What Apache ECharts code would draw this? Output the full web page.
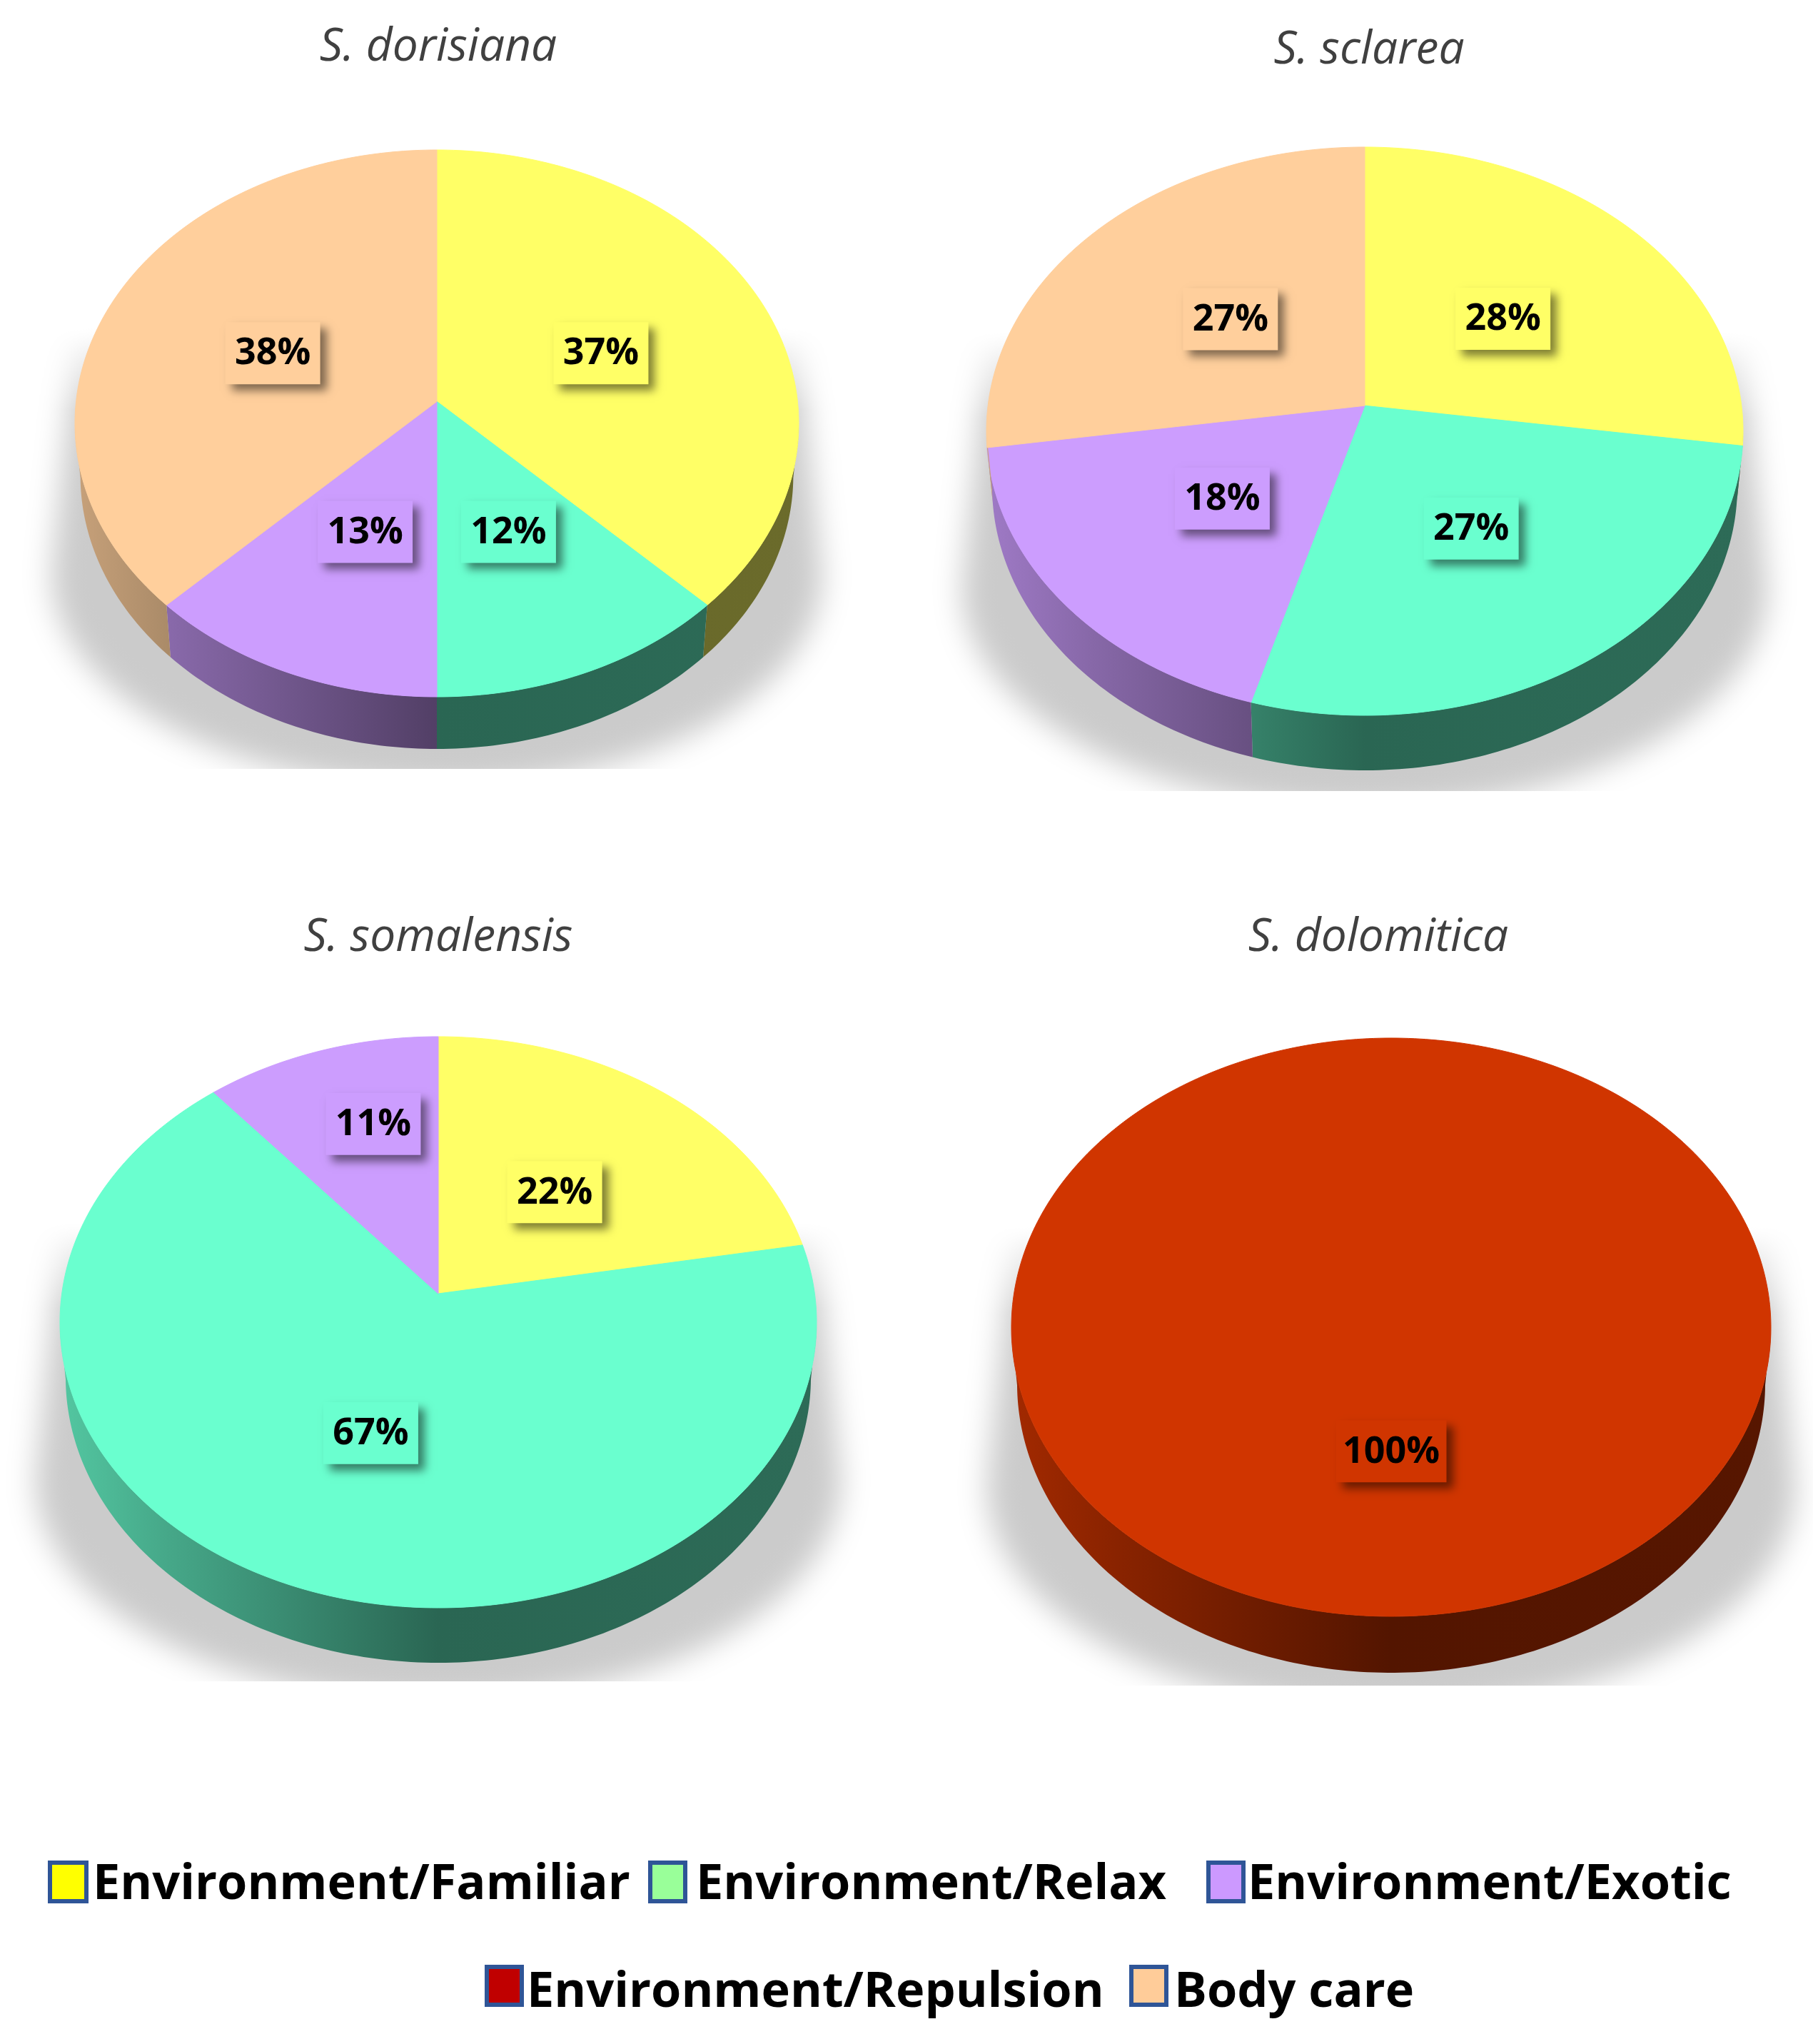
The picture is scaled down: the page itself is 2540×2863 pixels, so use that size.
<!DOCTYPE html>
<html>
<head>
<meta charset="utf-8">
<style>
  html, body { margin: 0; padding: 0; background: #fff; }
  #chart { width: 2540px; height: 2863px; }
</style>
<script src="https://cdn.jsdelivr.net/npm/echarts@6/dist/echarts.min.js"></script>
</head>
<body>
<div id="chart"></div>
<script>
  // data
  const species = ['S. dorisiana', 'S. sclarea', 'S. somalensis', 'S. dolomitica'];
  const dorisianaValues = [37.5, 12.5, 12.5, 37.5];
  const dorisianaLabels = ['37%', '12%', '13%', '38%'];
  const dorisianaKinds = [0, 1, 2, 4];
  const sclareaValues = [27.25, 27.2, 18.2, 27.35];
  const sclareaLabels = ['28%', '27%', '18%', '27%'];
  const sclareaKinds = [0, 1, 2, 4];
  const somalensisValues = [22.2, 66.7, 11.1];
  const somalensisLabels = ['22%', '67%', '11%'];
  const somalensisKinds = [0, 1, 2];
  const dolomiticaValues = [100];
  const dolomiticaLabels = ['100%'];
  const dolomiticaKinds = [3];
  const legendNames = ['Environment/Familiar', 'Environment/Relax', 'Environment/Exotic', 'Environment/Repulsion', 'Body care'];

  const sliceColors = ['#FFFF66', '#6AFFCF', '#CC9DFE', '#D03500', '#FFCF9C'];
  const legendColors = ['#FFFF00', '#99FF99', '#CC99FF', '#C00000', '#FFCC99'];

  const allValues = [dorisianaValues, sclareaValues, somalensisValues, dolomiticaValues];
  const allLabels = [dorisianaLabels, sclareaLabels, somalensisLabels, dolomiticaLabels];
  const allKinds = [dorisianaKinds, sclareaKinds, somalensisKinds, dolomiticaKinds];

  // where each pie sits on the page
  const pies = [
    { cx: 612, cy: 593, rx: 507, ry: 383, p: 0.08, depth: 73, cut: 484, tx: 609, ty: 62 },
    { cx: 1912, cy: 604, rx: 530, ry: 398, p: 0.09, depth: 77, cut: 504, tx: 1913, ty: 66 },
    { cx: 614, cy: 1852, rx: 530, ry: 400, p: 0.1, depth: 77, cut: 503, tx: 609, ty: 1309 },
    { cx: 1949, cy: 1859, rx: 532, ry: 405, p: 0.09, depth: 79, cut: 502, tx: 1926, ty: 1309 }
  ];

  // the 11% label is moved up in the source picture
  const labelNudge = { '2-2': [-5, -64], '1-2': [5, -4], '1-3': [6, 0] };

  const legendLayout = [
    { x: 67, y: 2606, w: 57, h: 60, tx: 130, dy: 5 },
    { x: 908, y: 2606, w: 55, h: 60, tx: 975, dy: 5 },
    { x: 1690, y: 2606, w: 55, h: 60, tx: 1748, dy: 5 },
    { x: 679, y: 2752, w: 55, h: 59, tx: 738, dy: 10 },
    { x: 1582, y: 2752, w: 55, h: 59, tx: 1645, dy: 10 }
  ];

  // true circle -> tilted ellipse, the circle centre lands above the ellipse centre
  function project(pie, u, v) {
    const d = 1 + pie.p * v;
    const ny = (v + pie.p) / d;
    const nx = u * Math.sqrt(1 - pie.p * pie.p) / d;
    return [pie.cx + nx * pie.rx, pie.cy - ny * pie.ry, ny];
  }

  function shade(hex, k) {
    const n = parseInt(hex.slice(1), 16);
    const r = Math.round((n >> 16 & 255) * k);
    const g = Math.round((n >> 8 & 255) * k);
    const b = Math.round((n & 255) * k);
    return 'rgb(' + r + ',' + g + ',' + b + ')';
  }

  function sliceAngles(i, j) {
    const vals = allValues[i];
    const total = vals.reduce((a, b) => a + b, 0);
    let before = 0;
    for (let k = 0; k < j; k++) before += vals[k];
    return [before / total * Math.PI * 2, (before + vals[j]) / total * Math.PI * 2];
  }

  // soft floor shadow: the shape itself sits off the page, only its blur lands on the pie
  function renderShadow(params, api) {
    const pie = pies[api.value(0)];
    const { cx, cy, rx, ry } = pie;
    const away = 4000;
    const pts = [[cx - rx * 0.995 - away, cy - ry * 0.35], [cx - rx * 1.065 - away, cy + ry * 0.55]];
    for (let t = 0; t <= 60; t++) {
      const a = Math.PI - t / 60 * Math.PI;
      pts.push([cx + Math.cos(a) * rx * 1.065 - away, cy + ry * 0.55 + Math.sin(a) * ry * 0.78]);
    }
    pts.push([cx + rx * 0.995 - away, cy - ry * 0.35]);
    return {
      type: 'group',
      children: [
        {
          type: 'polygon',
          shape: { points: pts },
          style: {
            fill: new echarts.graphic.LinearGradient(0, cy - ry * 0.35, 0, cy - ry * 0.05, [
              { offset: 0, color: 'rgba(203,203,203,0)' },
              { offset: 1, color: 'rgba(203,203,203,1)' }
            ], true),
            shadowBlur: 40,
            shadowOffsetX: away,
            shadowColor: 'rgba(203,203,203,1)'
          }
        },
        { type: 'rect', shape: { x: cx - rx * 1.3, y: cy + pie.cut, width: rx * 2.6, height: 110 }, style: { fill: '#fff' } }
      ]
    };
  }

  function renderSlice(params, api) {
    const i = api.value(0);
    const j = api.value(1);
    const pie = pies[i];
    const [a0, a1] = sliceAngles(i, j);
    const base = sliceColors[allKinds[i][j]];
    const steps = Math.max(8, Math.ceil((a1 - a0) * 60));
    const rim = [];
    for (let t = 0; t <= steps; t++) {
      const a = a0 + (a1 - a0) * t / steps;
      rim.push(project(pie, Math.sin(a), Math.cos(a)));
    }
    const children = [];
    // side wall, only the part under the widest line of the ellipse shows
    const front = rim.filter(q => q[2] <= 0);
    if (front.length > 1) {
      const lower = front.map(q => [pie.cx + (q[0] - pie.cx) * 0.985, q[1] + pie.depth]).reverse();
      children.push({
        type: 'polygon',
        shape: { points: front.map(q => [q[0], q[1]]).concat(lower) },
        style: {
          fill: new echarts.graphic.LinearGradient(pie.cx - pie.rx, 0, pie.cx + pie.rx, 0, [
            { offset: 0, color: shade(base, 0.78) },
            { offset: 0.14, color: shade(base, 0.66) },
            { offset: 0.5, color: shade(base, 0.4) },
            { offset: 1, color: shade(base, 0.42) }
          ], true)
        }
      });
    }
    const top = rim.map(q => [q[0], q[1]]);
    if (a1 - a0 < Math.PI * 1.99) {
      const apex = project(pie, 0, 0);
      top.push([apex[0], apex[1]]);
    }
    children.push({
      type: 'polygon',
      shape: { points: top },
      style: { fill: base, stroke: base, lineWidth: 1 }
    });
    return { type: 'group', children };
  }

  function renderLabel(params, api) {
    const i = api.value(0);
    const j = api.value(1);
    const pie = pies[i];
    const [a0, a1] = sliceAngles(i, j);
    const mid = (a0 + a1) / 2;
    const q = project(pie, Math.sin(mid) * 0.5, Math.cos(mid) * 0.5);
    const nudge = labelNudge[i + '-' + j] || [0, 0];
    const lx = q[0] + nudge[0];
    const ly = q[1] + (q[2] > 0 ? 4 : 0) + nudge[1];
    const text = allLabels[i][j];
    const base = sliceColors[allKinds[i][j]];
    const w = text.length > 3 ? 155 : 133;
    const h = 87;
    return {
      type: 'group',
      children: [
        {
          type: 'rect',
          shape: { x: lx - w / 2, y: ly - h / 2, width: w, height: h },
          style: { fill: base, shadowBlur: 12, shadowOffsetX: 9, shadowOffsetY: 9, shadowColor: 'rgba(0,0,0,0.5)' }
        },
        {
          type: 'text',
          style: {
            text: text, x: lx, y: ly + 1,
            align: 'center', verticalAlign: 'middle',
            font: 'bold 52px "Open Sans", sans-serif', fill: '#000'
          }
        }
      ]
    };
  }

  const sliceItems = [];
  allValues.forEach((vals, i) => vals.forEach((v, j) => sliceItems.push([i, j, v])));

  const legendGraphics = [];
  legendNames.forEach((name, i) => {
    const b = legendLayout[i];
    legendGraphics.push({
      type: 'rect',
      shape: { x: b.x + 3, y: b.y + 3, width: b.w - 6, height: b.h - 6 },
      style: { fill: legendColors[i], stroke: '#2F5597', lineWidth: 6 }
    });
    legendGraphics.push({
      type: 'text',
      style: {
        text: name, x: b.tx, y: b.y + b.h / 2 + b.dy,
        align: 'left', verticalAlign: 'middle',
        font: 'bold 68.4px "Open Sans", sans-serif', fill: '#000'
      }
    });
  });

  const chart = echarts.init(document.getElementById('chart'));
  chart.setOption({
    animation: false,
    backgroundColor: '#fff',
    title: species.map((name, i) => ({
      text: name,
      left: pies[i].tx,
      top: pies[i].ty,
      textAlign: 'center',
      textVerticalAlign: 'middle',
      textStyle: { color: '#404040', fontSize: 64, fontStyle: 'italic', fontWeight: 'normal', fontFamily: '"Open Sans", sans-serif' }
    })),
    graphic: legendGraphics,
    series: [
      { type: 'custom', coordinateSystem: 'none', z: 1, silent: true, data: pies.map((p, i) => [i]), renderItem: renderShadow },
      { type: 'custom', coordinateSystem: 'none', z: 2, silent: true, data: sliceItems, renderItem: renderSlice },
      { type: 'custom', coordinateSystem: 'none', z: 3, silent: true, data: sliceItems, renderItem: renderLabel }
    ]
  });
</script>
</body>
</html>
